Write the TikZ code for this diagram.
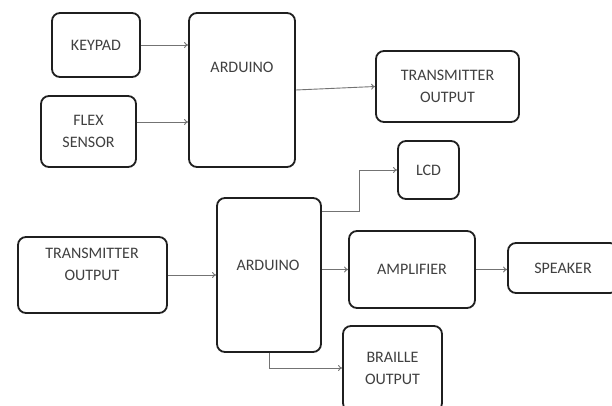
\documentclass[tikz,border=0pt]{standalone}
\usepackage{fontspec}
\setmainfont{Carlito}
\usetikzlibrary{arrows.meta}
\begin{document}
\begin{tikzpicture}[x=1pt,y=-1pt,
  box/.style={draw=black!88, line width=1.8pt, rounded corners=8pt, inner sep=0pt, align=center,
    font=\fontsize{16}{22}\selectfont, text=black!75},
  txt/.style={inner sep=0pt, align=center, font=\fontsize{16}{22}\selectfont, text=black!75},
  arr/.style={draw=black!55, line width=0.9pt, -{To[length=4pt,width=6pt]}},
  ln/.style={draw=black!55, line width=0.9pt}]
\clip (0,0) rectangle (612,406);
\fill[white] (0,0) rectangle (612,406);
% top part
\node[box, minimum width=88, minimum height=64] (key) at (96,45) {KEYPAD};
\node[box, minimum width=95, minimum height=71] (flex) at (88.5,131.5) {FLEX\\SENSOR};
\node[box, minimum width=106, minimum height=154] (ard1) at (242,90) {};
\node[txt] (ard1t) at (242,67) {ARDUINO};
\node[box, minimum width=143, minimum height=71] (tx1) at (447.5,86.5) {TRANSMITTER\\OUTPUT};
% bottom part
\node[box, minimum width=61, minimum height=58] (lcd) at (428.5,170) {LCD};
\node[box, minimum width=104, minimum height=154] (ard2) at (269,275) {};
\node[txt] (ard2t) at (268,265) {ARDUINO};
\node[box, minimum width=149, minimum height=76] (tx2) at (92.5,275) {};
\node[txt] (tx2t) at (92,264.5) {TRANSMITTER\\OUTPUT};
\node[box, minimum width=126, minimum height=77] (amp) at (412,269.5) {AMPLIFIER};
\node[box, minimum width=110, minimum height=50] (spk) at (563,268) {SPEAKER};
\node[box, minimum width=99, minimum height=85] (brl) at (392.5,368.5) {BRAILLE\\OUTPUT};
\coordinate (lcdturn) at (359,211);
\coordinate (brlturn) at (269,368);
% connectors
\draw[arr] (key.east) -- (ard1.west |- key.east);
\draw[arr] (flex.east |- 0,122) -- (ard1.west |- 0,122);
\draw[arr] (ard1.east) -- (tx1.west);
\draw[arr] (ard2.east |- lcdturn) -- (lcdturn) |- (lcd.west);
\draw[arr] (tx2.east) -- (ard2.west |- tx2.east);
\draw[arr] (ard2.east |- amp.west) -- (amp.west);
\draw[arr] (amp.east) -- (spk.west |- amp.east);
\draw[arr] (ard2.south) -- (brlturn) -- (brl.west |- brlturn);
\end{tikzpicture}
\end{document}
